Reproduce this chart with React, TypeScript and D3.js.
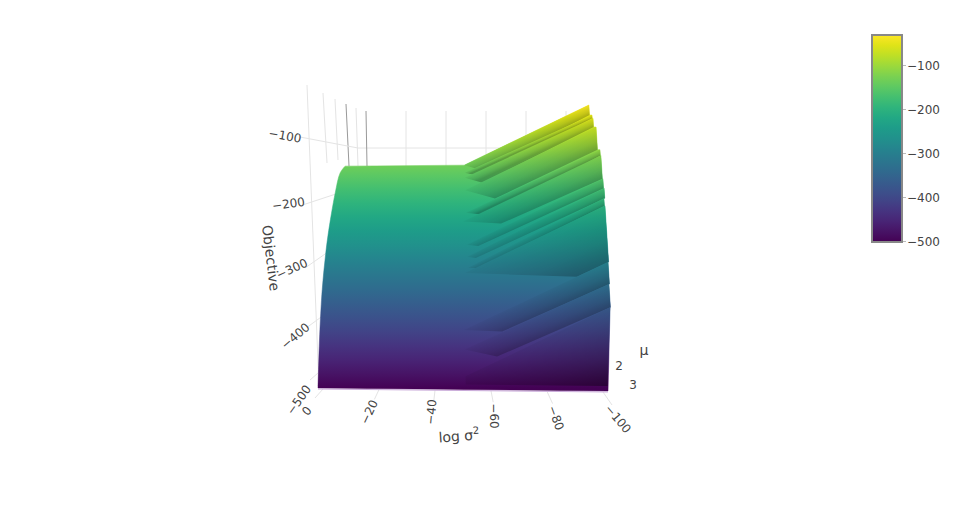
import React from 'react';
import * as d3 from 'd3';

// Colour range of the surface and the axis ticks
const colorDomain = [-501, -42];
const zTicks = [-100, -200, -300, -400, -500];
const sigmaTicks = [0, -20, -40, -60, -80, -100];
const muTicks = [2, 3];
const muGrid = [0, 1, 2, 3, 4, 5];

// Left silhouette of the surface: log sigma^2 against objective
const edgeSigma = [0, -0.52, -1.23, -1.77, -2.48, -3.57, -6.2, -8, -9.8];
const edgeObjective = [-500, -423, -359, -327, -295, -255, -187, -155, -144];

// Folds on the right hand side, top to bottom
const bandTipSigma = [-53, -53, -53, -53, -53, -52, -53, -53, -53, -52, -51, -51, -51];
const bandTipObjective = [-142, -154, -162, -182, -218, -232, -269, -288, -306, -314, -405, -436, -479];
const bandPeakSigma = [-99.6, -100.5, -100.8, -101.7, -102.6, -102.8, -103, -103.2, -102.9, -103.1, -102.9, -102.7, -102.6];
const bandPeakObjective = [-46, -62, -67, -81, -117, -126, -163, -178, -194, -206, -295, -330, -367];
const bandFootSigma = [-59.4, -59.4, -59.4, -63.7, -62, -65.5, -57, -56, -57, -91.6, -64.3, -62.2, -51];
const bandFootObjective = [-150, -160, -170, -195, -222, -235, -271, -290, -306, -319, -407, -447, -492];

const tickColor = '#444';
const gridColor = '#e4e4e4';
const fmt = (v: number) => String(v).replace('-', '\u2212');

// Surface projection
const yScale = d3.scaleLinear().domain([-500, -30]).range([388, 95]);
const topShare = d3.scaleLinear().domain([388, 105]).range([0, 1]);
const project = (sigma: number, objective: number): [number, number] => {
  const y = yScale(objective);
  const t = topShare(y);
  const xRight = d3.interpolateNumber(608, 590)(t);
  const x = d3.scaleLinear().domain([0, -100]).range([318, xRight])(sigma);
  return [x, y + (1 - t) * 3 * (-sigma / 100)];
};
const path = d3.line<[number, number]>();

// Tick label placement (the scene is seen in perspective, so each follows its own scale)
const zLabelX = d3.scaleLinear().domain([-100, -500]).range([285, 299]);
const zLabelY = d3.scaleLinear().domain([-100, -200, -300, -400, -500]).range([136, 204, 269, 336, 400]);
const zLabelRot = d3.scaleLinear().domain([-100, -200, -300, -400, -500]).range([10, -8, -25, -40, -55]);
const zGridOuterX = d3.scaleLinear().domain([-100, -500]).range([300, 310]);
const zGridOuterY = d3.scaleLinear().domain([-100, -200, -300, -400, -500]).range([137, 205, 268, 327, 380]);
const zGridInnerX = d3.scaleLinear().domain([-100, -500]).range([358, 318]);
const zGridInnerY = d3.scaleLinear().domain([-100, -200, -300, -400, -500]).range([148, 190, 245, 312, 373]);
const xLabelX = d3.scaleLinear().domain([0, -100]).range([307, 618]);
const xLabelY = d3.scaleLinear().domain([0, -20, -40, -60, -80, -100]).range([411, 412, 412, 416, 418, 419]);
const xLabelRot = d3.scaleLinear().domain([0, -20, -40, -60, -80, -100]).range([-50, -65, -85, 90, 70, 50]);
const xTickOuterX = d3.scaleLinear().domain([0, -100]).range([315, 612]);
const xTickOuterY = d3.scaleLinear().domain([0, -100]).range([398, 405]);
const xTickInnerX = d3.scaleLinear().domain([0, -100]).range([323, 603]);
const xTickInnerY = d3.scaleLinear().domain([0, -100]).range([389, 392]);
const wallX = d3.scaleLinear().domain([0, -100]).range([366, 566]);
const sideTopX = d3.scaleLinear().domain(muGrid).range([366, 356, 346, 335, 323, 307]);
const sideTopY = d3.scaleLinear().domain(muGrid).range([111, 108, 104, 99, 93, 85]);
const sideBottomX = d3.scaleLinear().domain(muGrid).range([367, 358, 349, 338, 327, 319]);
const sideBottomY = d3.scaleLinear().domain(muGrid).range([166, 166, 166, 160, 163, 388]);
const muLabelX = d3.scaleLinear().domain([2, 3]).range([619, 633]);
const muLabelY = d3.scaleLinear().domain([2, 3]).range([366, 385]);

const barY = d3.scaleLinear().domain([-500, -100]).range([241.5, 65.5]);

const viridisStops = d3.range(0, 1.0001, 0.05);

export default function App() {
  const bands = bandPeakObjective.map((peak, i) => {
    const tip = project(bandTipSigma[i], bandTipObjective[i]);
    const top = project(bandPeakSigma[i], peak);
    const nextTop = i + 1 < bandPeakObjective.length
      ? project(bandPeakSigma[i], bandPeakObjective[i + 1])
      : project(-100, bandFootObjective[i]);
    const foot = project(bandFootSigma[i], bandFootObjective[i]);
    // shade runs across the fold, from its upper line to the foot
    const dx = top[0] - tip[0];
    const dy = top[1] - tip[1];
    const len = Math.hypot(dx, dy);
    const nx = -dy / len;
    const ny = dx / len;
    const depth = (nextTop[0] - tip[0]) * nx + (nextTop[1] - tip[1]) * ny;
    const mid: [number, number] = [(tip[0] + top[0]) / 2, (tip[1] + top[1]) / 2];
    return {
      d: path([tip, top, nextTop, foot])! + 'Z',
      x1: mid[0],
      y1: mid[1],
      x2: mid[0] + nx * depth,
      y2: mid[1] + ny * depth,
      last: i === bandPeakObjective.length - 1,
    };
  });

  const leftEdge = d3.line<[number, number]>().curve(d3.curveCatmullRom)(
    edgeSigma.map((s, i) => project(s, edgeObjective[i]))
  )!;
  const outline: [number, number][] = [project(bandTipSigma[0], bandTipObjective[0])];
  bandPeakObjective.forEach((peak, i) => {
    outline.push(project(bandPeakSigma[i], peak));
    if (i + 1 < bandPeakObjective.length) outline.push(project(bandPeakSigma[i], bandPeakObjective[i + 1]));
  });
  outline.push(project(-100, -500));
  const faceD = leftEdge + 'L' + outline.map(p => p.join(',')).join('L') + 'Z';

  return (
    <svg width={960} height={518} style={{ position: 'absolute', left: 0, top: 0, fontFamily: 'DejaVu Sans', fill: tickColor }}>
      <defs>
        <linearGradient id="surface" gradientUnits="userSpaceOnUse" x1={0} x2={0} y1={yScale(colorDomain[0])} y2={yScale(colorDomain[1])}>
          {viridisStops.map(t => <stop key={t} offset={t} stopColor={d3.interpolateViridis(t)} />)}
        </linearGradient>
        <linearGradient id="bar" x1={0} x2={0} y1={1} y2={0}>
          {viridisStops.map(t => <stop key={t} offset={t} stopColor={d3.interpolateViridis(t)} />)}
        </linearGradient>
        <filter id="soft" x="-5%" y="-5%" width="110%" height="110%">
          <feGaussianBlur stdDeviation={0.6} />
        </filter>
        {bands.map((b, i) => (
          <linearGradient key={i} id={`shade${i}`} gradientUnits="userSpaceOnUse" x1={b.x1} y1={b.y1} x2={b.x2} y2={b.y2}>
            <stop offset={0} stopColor="#000" stopOpacity={b.last ? 0.05 : 0.03} />
            <stop offset={0.6} stopColor="#000" stopOpacity={b.last ? 0.22 : 0.13} />
            <stop offset={1} stopColor="#000" stopOpacity={b.last ? 0.38 : 0.24} />
          </linearGradient>
        ))}
      </defs>

      {/* grid */}
      <g stroke={gridColor} fill="none">
        {sigmaTicks.slice(1).map(t => <line key={t} x1={wallX(t)} x2={wallX(t)} y1={111} y2={200} />)}
        <line x1={358} x2={560} y1={148} y2={148} />
        {muGrid.map(m => (
          <line key={m} x1={sideTopX(m)} y1={sideTopY(m)} x2={sideBottomX(m)} y2={sideBottomY(m)}
            stroke={m === 0 || m === 2 ? '#999' : gridColor} />
        ))}
        {zTicks.map(t => <line key={t} x1={zGridOuterX(t)} y1={zGridOuterY(t)} x2={zGridInnerX(t)} y2={zGridInnerY(t)} />)}
        {sigmaTicks.map(t => <line key={t} x1={xTickOuterX(t)} y1={xTickOuterY(t)} x2={xTickInnerX(t)} y2={xTickInnerY(t)} />)}
      </g>

      {/* surface */}
      <path d={faceD} fill="url(#surface)" stroke="url(#surface)" strokeWidth={0.5} />
      {bands.map((b, i) => (
        <g key={i}>
          <path d={b.d} fill="url(#surface)" />
          <path d={b.d} fill={`url(#shade${i})`} filter="url(#soft)" />
        </g>
      ))}
      <path d={path([project(0, -500), project(-100, -500)])!} stroke="#c8a8d8" strokeWidth={1} fill="none" transform="translate(0,1)" />

      {/* axis labels */}
      <g fontSize={12} textAnchor="middle" dominantBaseline="central">
        {zTicks.map(t => (
          <text key={t} transform={`translate(${zLabelX(t)},${zLabelY(t)}) rotate(${zLabelRot(t)})`}>{fmt(t)}</text>
        ))}
        {sigmaTicks.map(t => (
          <text key={t} transform={`translate(${xLabelX(t)},${xLabelY(t)}) rotate(${xLabelRot(t)})`}>{fmt(t)}</text>
        ))}
        {muTicks.map(t => (
          <text key={t} x={muLabelX(t)} y={muLabelY(t)}>{fmt(t)}</text>
        ))}
      </g>
      <g fontSize={14} textAnchor="middle" dominantBaseline="central">
        <text transform="translate(459,436) rotate(-4)">log σ<tspan fontSize={10} dy={-5}>2</tspan></text>
        <text transform="translate(271,258) rotate(83)">Objective</text>
        <text transform="translate(644,350)">μ</text>
      </g>

      {/* colour bar */}
      <rect x={872} y={35} width={30} height={207} fill="url(#bar)" stroke="#888" strokeWidth={2} />
      <g fontSize={12} dominantBaseline="central">
        {zTicks.map(t => (
          <g key={t}>
            <line x1={903} x2={906} y1={barY(t)} y2={barY(t)} stroke="#bbb" />
            <text x={907} y={barY(t)}>{fmt(t)}</text>
          </g>
        ))}
      </g>
    </svg>
  );
}
